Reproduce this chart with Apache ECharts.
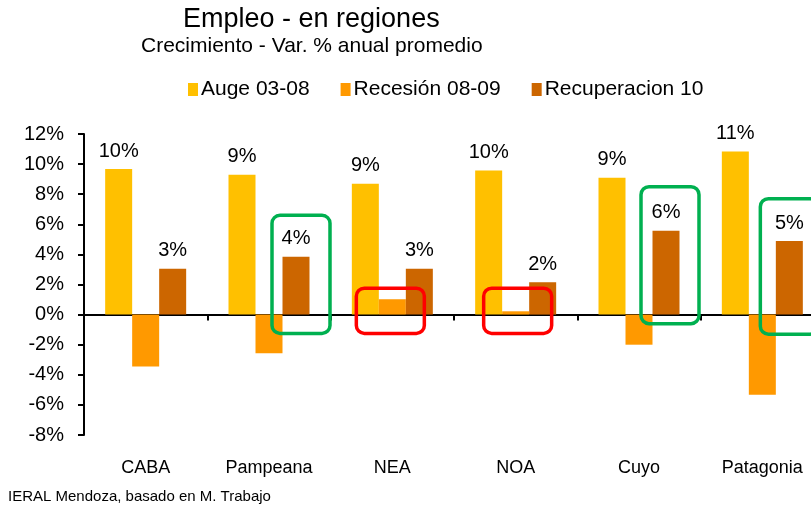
<!DOCTYPE html>
<html>
<head>
<meta charset="utf-8">
<script src="https://cdn.jsdelivr.net/npm/echarts@6/dist/echarts.min.js"></script>
<style>
	html, body { margin: 0; padding: 0; background: #fff; overflow: hidden; }
	#chart { width: 830px; height: 508px; }
</style>
</head>
<body>
<div id="chart"></div>
<script>
var regions = ["CABA", "Pampeana", "NEA", "NOA", "Cuyo", "Patagonia"];
var seriesNames = ["Auge 03-08", "Recesión 08-09", "Recuperacion 10"];
var auge = [9.67, 9.29, 8.69, 9.57, 9.09, 10.84];
var recesion = [-3.45, -2.56, 1.02, 0.22, -2.0, -5.33];
var recuperacion = [3.05, 3.84, 3.04, 2.15, 5.57, 4.89];
var yTicks = [-8, -6, -4, -2, 0, 2, 4, 6, 8, 10, 12];

var FONT = "'Liberation Sans', Arial, sans-serif";
var BAR_W = 27;

var chart = echarts.init(document.getElementById("chart"));

function pctLabel(p) {
	return Math.round(p.value) + "%";
}

var option = {
	backgroundColor: "#fff",
	animation: false,
	title: [
		{
			text: "Empleo - en regiones",
			left: 183,
			top: 6,
			padding: 0,
			textStyle: { fontFamily: FONT, fontSize: 27, fontWeight: "normal", color: "#000" }
		},
		{
			text: "Crecimiento - Var. % anual promedio",
			left: 141,
			top: 36,
			padding: 0,
			textStyle: { fontFamily: FONT, fontSize: 21, fontWeight: "normal", color: "#000" }
		}
	],
	legend: {
		data: seriesNames,
		left: 188,
		top: 79,
		padding: 0,
		icon: "rect",
		itemWidth: 10,
		itemHeight: 13,
		itemGap: 31,
		textStyle: { fontFamily: FONT, fontSize: 21, color: "#000", padding: [0, 0, 0, -2] }
	},
	grid: {
		left: 84,
		top: 134,
		width: 740,
		bottom: 73,
		containLabel: false
	},
	xAxis: [
		{
			type: "category",
			data: regions,
			axisLine: { onZero: true, lineStyle: { color: "#000", width: 2 } },
			axisTick: { show: true, length: 6, lineStyle: { color: "#000", width: 2 } },
			axisLabel: { show: false }
		},
		{
			type: "category",
			data: regions,
			position: "bottom",
			axisLine: { show: false, onZero: false },
			axisTick: { show: false },
			axisLabel: { fontFamily: FONT, fontSize: 18, color: "#000", margin: 24 }
		}
	],
	yAxis: {
		type: "value",
		min: yTicks[0],
		max: yTicks[yTicks.length - 1],
		interval: 2,
		axisLine: { show: true, lineStyle: { color: "#000", width: 2 } },
		axisTick: { show: true, length: 6, lineStyle: { color: "#000", width: 2 } },
		splitLine: { show: false },
		axisLabel: {
			fontFamily: FONT,
			fontSize: 20,
			color: "#000",
			margin: 20,
			formatter: "{value}%"
		}
	},
	series: [
		{
			name: seriesNames[0],
			type: "bar",
			data: auge,
			barWidth: BAR_W,
			barGap: "0%",
			itemStyle: { color: "#FFC000" },
			label: { show: true, position: "top", distance: 8, formatter: pctLabel, fontFamily: FONT, fontSize: 20, color: "#000" }
		},
		{
			name: seriesNames[1],
			type: "bar",
			data: recesion,
			barWidth: BAR_W,
			barGap: "0%",
			itemStyle: { color: "#FF9900" }
		},
		{
			name: seriesNames[2],
			type: "bar",
			data: recuperacion,
			barWidth: BAR_W,
			barGap: "0%",
			itemStyle: { color: "#CC6600" },
			label: { show: true, position: "top", distance: 8, formatter: pctLabel, fontFamily: FONT, fontSize: 20, color: "#000" }
		}
	]
};

chart.setOption(option);

//resaltados (cuadros verdes y rojos)
var boxes = [
	{ region: "Pampeana", serie: 2, top: 6.6, bottom: -1.25, color: "#00B050", w: 58, dx: 5 },
	{ region: "NEA", serie: 1, top: 1.75, bottom: -1.25, color: "#FF0000", w: 68, dx: -2 },
	{ region: "NOA", serie: 1, top: 1.75, bottom: -1.25, color: "#FF0000", w: 68, dx: 2 },
	{ region: "Cuyo", serie: 2, top: 8.5, bottom: -0.6, color: "#00B050", w: 58, dx: 4 },
	{ region: "Patagonia", serie: 2, top: 7.7, bottom: -1.3, color: "#00B050", w: 58, dx: 0 }
];

var elements = boxes.map(function (b) {
	var p1 = chart.convertToPixel({ xAxisIndex: 0, yAxisIndex: 0 }, [b.region, b.top]);
	var p2 = chart.convertToPixel({ xAxisIndex: 0, yAxisIndex: 0 }, [b.region, b.bottom]);
	var cx = p1[0] + (b.serie - 1) * BAR_W + b.dx;
	return {
		type: "rect",
		shape: { x: cx - b.w / 2, y: p1[1], width: b.w, height: p2[1] - p1[1], r: 8 },
		style: { fill: "none", stroke: b.color, lineWidth: 3.5 },
		z: 100
	};
});

elements.push({
	type: "text",
	left: 8,
	top: 489,
	style: {
		text: "IERAL Mendoza, basado en M. Trabajo",
		font: "15px " + FONT,
		fill: "#000"
	}
});

chart.setOption({ graphic: elements });
</script>
</body>
</html>
